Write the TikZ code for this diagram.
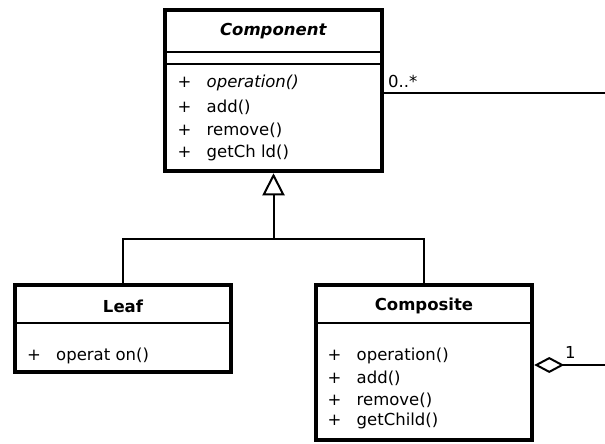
\documentclass[tikz,border=0pt]{standalone}
\usepackage{fontspec}
\setmainfont{DejaVu Sans}
\usetikzlibrary{arrows.meta}
\begin{document}
\begin{tikzpicture}[x=1pt,y=-1pt,
  classbox/.style={draw, line width=3.8pt, inner sep=0pt, outer sep=0pt},
  sepline/.style={line width=1.5pt},
  title/.style={font=\fontsize{16.5}{20}\selectfont\bfseries, inner sep=0pt},
  member/.style={font=\fontsize{16.5}{20}\selectfont, inner sep=0pt, anchor=west},
  mult/.style={font=\fontsize{16.5}{20}\selectfont, inner sep=0pt, anchor=west},
  conn/.style={line width=2pt}]
\useasboundingbox (0,0) rectangle (605,444);
\fill[white] (0,0) rectangle (605,444);
% classes
\node[classbox, minimum width=217.5pt, minimum height=161.5pt] (comp) at (273.5,90.5) {};
\node[classbox, minimum width=216.5pt, minimum height=87.5pt] (leaf) at (123,328.5) {};
\node[classbox, minimum width=216.5pt, minimum height=155.5pt] (cpst) at (424,362.5) {};
% compartments
\draw[sepline] ([yshift=-42.25pt]comp.north west) -- ([yshift=-42.25pt]comp.north east);
\draw[sepline] ([yshift=-54.25pt]comp.north west) -- ([yshift=-54.25pt]comp.north east);
\draw[sepline] ([yshift=-38.25pt]leaf.north west) -- ([yshift=-38.25pt]leaf.north east);
\draw[sepline] ([yshift=-38.25pt]cpst.north west) -- ([yshift=-38.25pt]cpst.north east);
% titles
\node[title] (tcomp) at (273.5,31) {\textit{Component}};
\node[title] (tleaf) at (123,306) {Leaf};
\node[title] (tcpst) at (424,306) {Composite};
% members
\node[member] (c1) at (177.5,83) {\makebox[29pt][l]{+}\textit{operation()}};
\node[member] (c2) at (177.5,107) {\makebox[29pt][l]{+}add()};
\node[member] (c3) at (177.5,130) {\makebox[29pt][l]{+}remove()};
\node[member] (c4) at (177.5,153) {\makebox[29pt][l]{+}getCh ld()};
\node[member] (l1) at (27,356) {\makebox[29pt][l]{+}operat on()};
\node[member] (p1) at (327.5,356) {\makebox[29pt][l]{+}operation()};
\node[member] (p2) at (327.5,378) {\makebox[29pt][l]{+}add()};
\node[member] (p3) at (327.5,400) {\makebox[29pt][l]{+}remove()};
\node[member] (p4) at (327.5,421) {\makebox[29pt][l]{+}getChild()};
% inheritance
\coordinate (jn) at (273.5,239);
\draw[conn] (leaf.north) |- (jn);
\draw[conn] (cpst.north) |- (jn);
\draw[conn, -{Triangle[open, length=22pt, width=22pt]}, shorten >=2pt] (jn) -- (comp.south);
% associations leaving the picture
\coordinate (r1) at (605,93);
\draw[conn] (comp.east |- r1) -- (r1);
\node[mult] (m1) at (388,81) {0..*};
\coordinate (r2) at (605,365);
\draw[conn, {Diamond[open, length=30pt, width=16pt]}-, shorten <=2pt] (cpst.east |- r2) -- (r2);
\node[mult] (m2) at (565,352) {1};
\end{tikzpicture}
\end{document}
